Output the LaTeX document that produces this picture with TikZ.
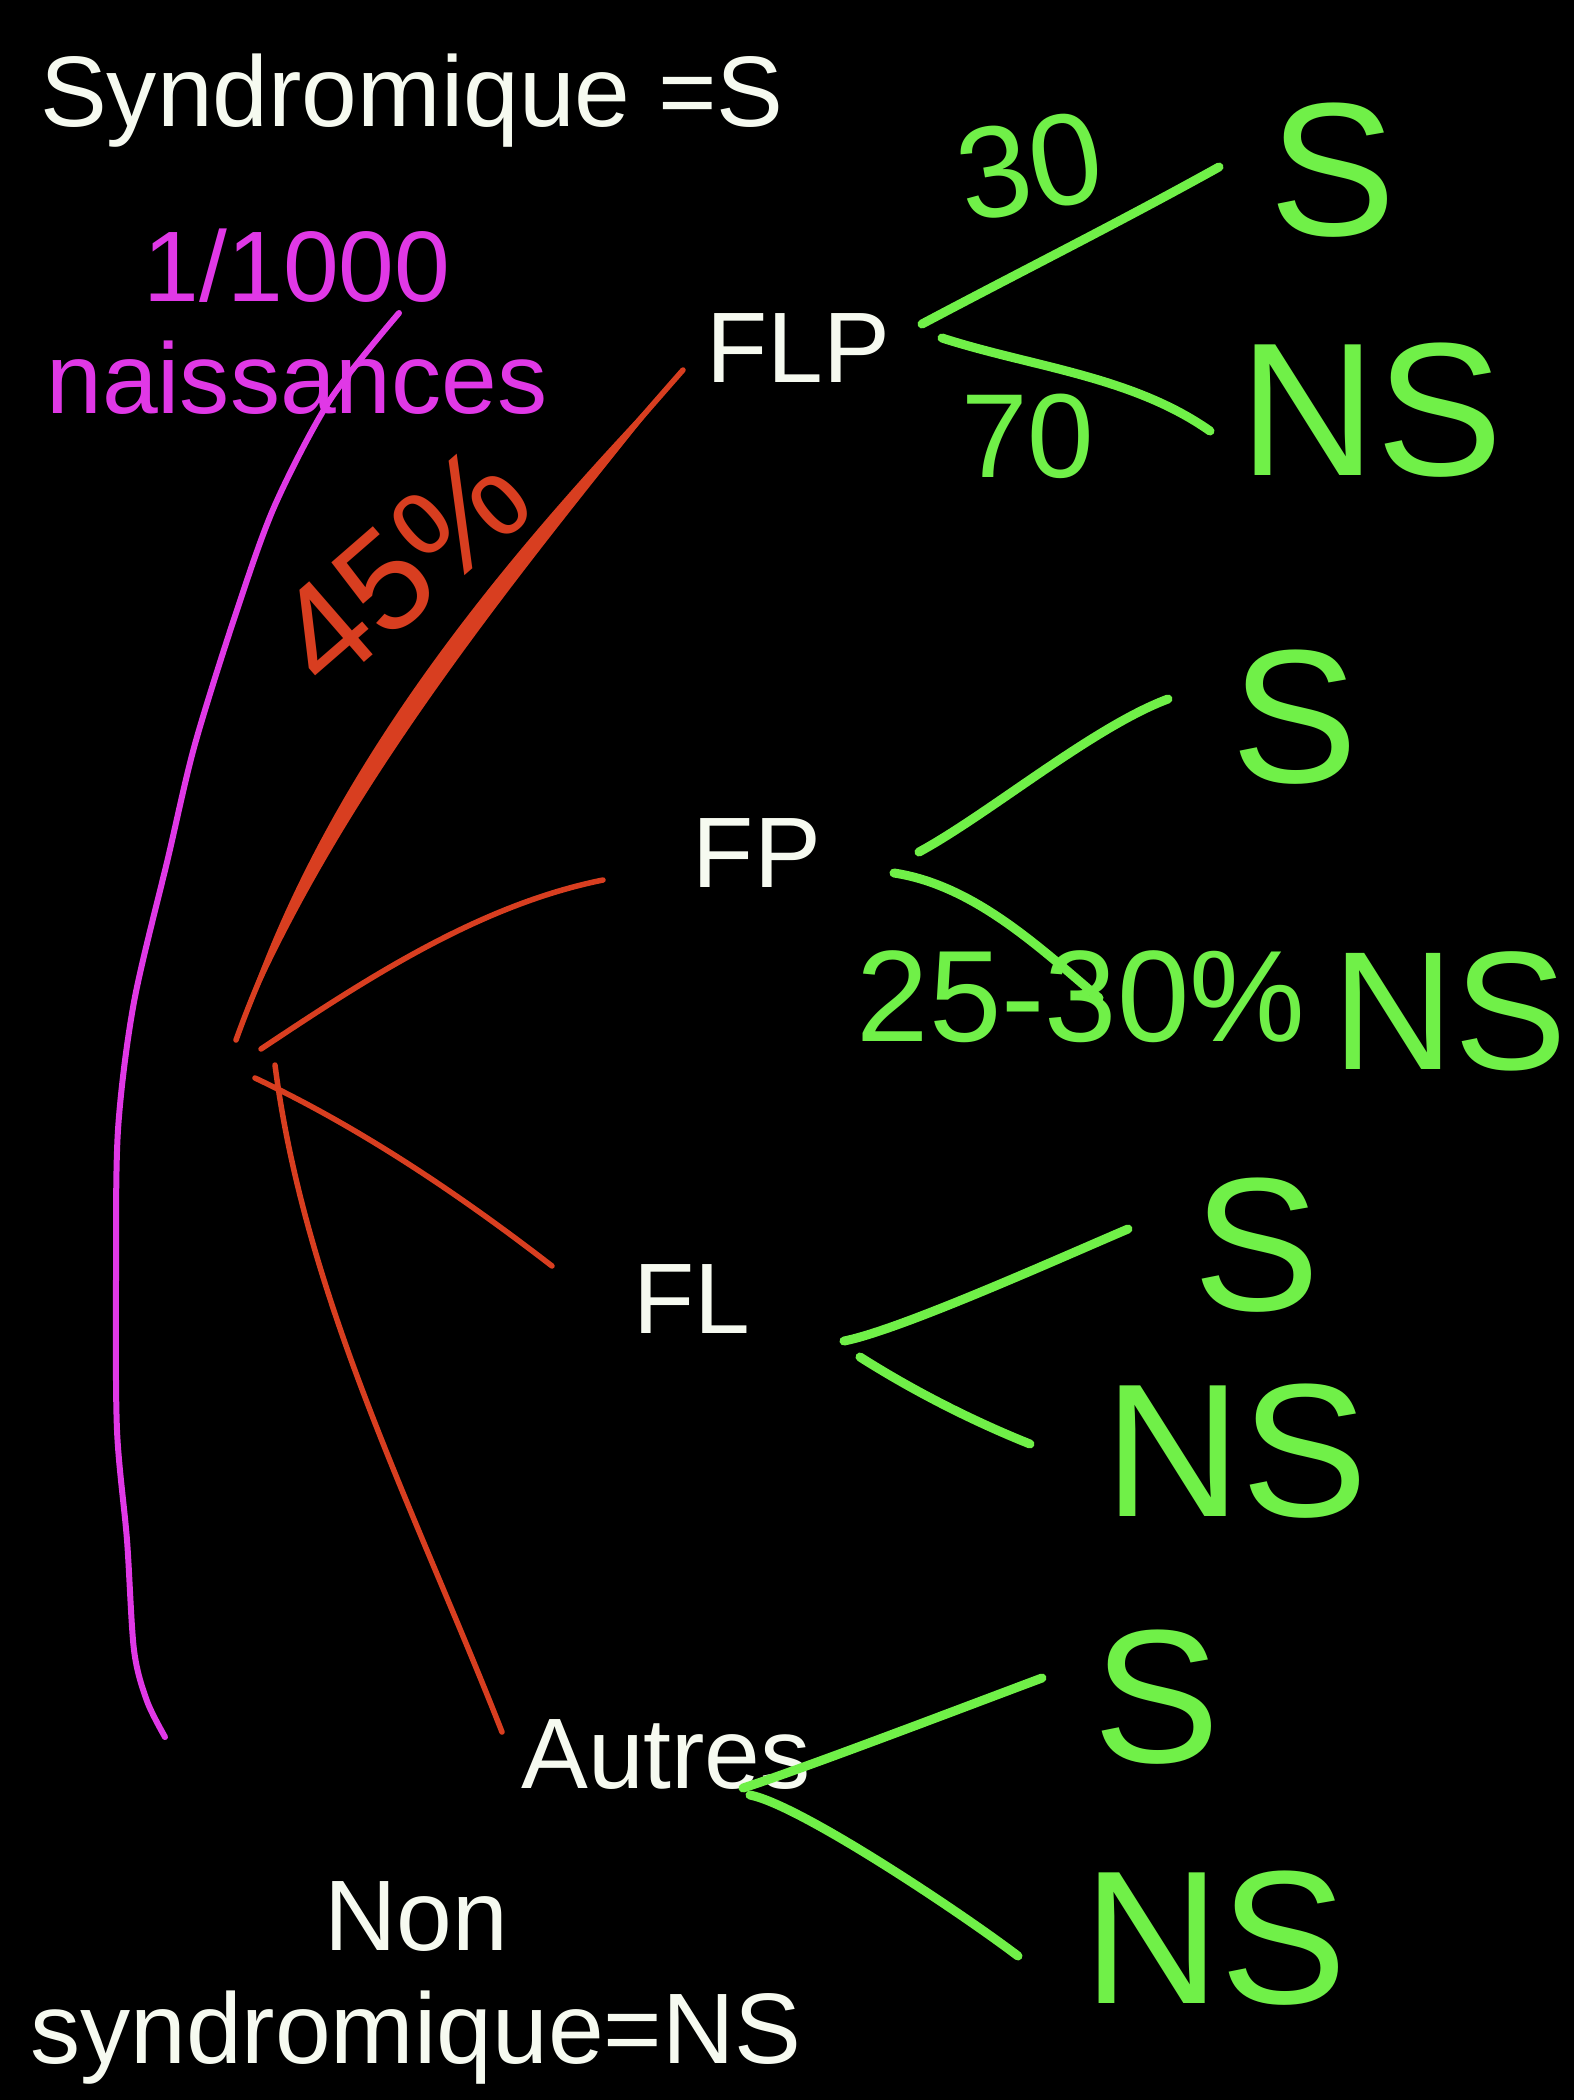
\documentclass[tikz,border=0pt]{standalone}
\usepackage{fontspec}
\setmainfont{Liberation Sans}
\definecolor{cchalk}{RGB}{246,250,240}
\definecolor{cpink}{RGB}{224,56,230}
\definecolor{cred}{RGB}{216,62,32}
\definecolor{cgreen}{RGB}{112,240,72}

\begin{document}
\begin{tikzpicture}[x=0.01cm,y=-0.01cm,
  txt/.style={text=cchalk,inner sep=0pt,font=\fontsize{28.5}{32}\selectfont},
  hand/.style={text=cgreen,inner sep=0pt,font=\fontsize{54}{54}\selectfont},
  handnum/.style={text=cgreen,inner sep=0pt,font=\fontsize{37}{40}\selectfont},
  pinkstroke/.style={draw=cpink,line width=0.06cm,line cap=round,line join=round},
  redstroke/.style={draw=cred,line width=0.055cm,line cap=round},
  greenstroke/.style={draw=cgreen,line width=0.09cm,line cap=round}]
\fill[black] (0,0) rectangle (1574,2100);

% texts
\node[txt,anchor=base] (synd) at (412,127) {Syndromique =S};
\node[txt,text=cpink,anchor=north,align=center] (rate) at (297,228) {1/1000\\naissances};
\node[txt,anchor=base] (flp) at (798,382) {FLP};
\node[txt,anchor=base] (fp) at (757,887) {FP};
\node[txt,anchor=base] (fl) at (692,1333) {FL};
\node[txt,anchor=base] (autres) at (666,1788) {Autres};
\node[txt,anchor=north,align=center] (nonsynd) at (416,1881) {Non\\syndromique=NS};

% bracket
\draw[pinkstroke] plot[smooth,tension=0.5] coordinates {(399,313) (330,400) (275,505) (237,610) (195,744) (168,858) (134,1002) (118,1130) (116,1280) (117,1430) (127,1540) (134,1650) (147,1701) (165,1737)};

% red fan
\coordinate (fanA) at (236,1040);
\coordinate (flpin) at (683,370);
\coordinate (fanB) at (261,1049);
\coordinate (fpin) at (603,880);
\coordinate (fanC) at (255,1078);
\coordinate (flin) at (552,1266);
\coordinate (fanD) at (275,1065);
\coordinate (autin) at (502,1732);
\fill[cred] (fanA) .. controls (337,795) and (516,578) .. (flpin)
  .. controls (496,564) and (317,781) .. (fanA);
\draw[redstroke] (fanA) .. controls (327,788) and (506,571) .. (flpin);
\draw[redstroke] (fanB) .. controls (366,979) and (479,905) .. (fpin);
\draw[redstroke] (fanC) .. controls (361,1128) and (460,1195) .. (flin);
\draw[redstroke] (fanD) .. controls (305,1298) and (416,1513) .. (autin);
\node[handnum,text=cred,font=\fontsize{40}{40}\selectfont,rotate=41] (pflp) at (402,566) {45\%};

% green branches
\coordinate (flpout1) at (922,324);
\coordinate (s1in) at (1219,167);
\coordinate (flpout2) at (942,338);
\coordinate (ns1in) at (1210,431);
\coordinate (fpout1) at (919,852);
\coordinate (s2in) at (1168,699);
\coordinate (fpout2) at (894,873);
\coordinate (ns2in) at (1099,998);
\coordinate (flout1) at (844,1341);
\coordinate (s3in) at (1128,1229);
\coordinate (flout2) at (860,1357);
\coordinate (ns3in) at (1030,1444);
\coordinate (autout1) at (743,1788);
\coordinate (s4in) at (1042,1678);
\coordinate (autout2) at (750,1795);
\coordinate (ns4in) at (1018,1956);
\draw[greenstroke] (flpout1) .. controls (1020,272) and (1120,222) .. (s1in);
\draw[greenstroke] (flpout2) .. controls (1032,367) and (1132,376) .. (ns1in);
\draw[greenstroke] (fpout1) .. controls (989,814) and (1093,727) .. (s2in);
\draw[greenstroke] (fpout2) .. controls (973,885) and (1038,946) .. (ns2in);
\draw[greenstroke] (flout1) .. controls (900,1330) and (1060,1258) .. (s3in);
\draw[greenstroke] (flout2) .. controls (915,1392) and (975,1422) .. (ns3in);
\draw[greenstroke] (autout1) .. controls (805,1768) and (975,1703) .. (s4in);
\draw[greenstroke] (autout2) .. controls (800,1805) and (960,1912) .. (ns4in);

\node[handnum,rotate=10] (p30) at (1030,166) {30};
\node[handnum,font=\fontsize{34}{34}\selectfont] (p70) at (1028,436) {70};
\node[handnum] (p2530) at (1081,997) {25-30\%};

\node[hand] (s1) at (1333,170) {S};
\node[hand] (ns1) at (1371,410) {NS};
\node[hand] (s2) at (1295,717) {S};
\node[hand,font=\fontsize{48}{48}\selectfont] (ns2) at (1450,1011) {NS};
\node[hand] (s3) at (1257,1245) {S};
\node[hand] (ns3) at (1236,1451) {NS};
\node[hand] (s4) at (1157,1697) {S};
\node[hand] (ns4) at (1215,1938) {NS};
\end{tikzpicture}
\end{document}
